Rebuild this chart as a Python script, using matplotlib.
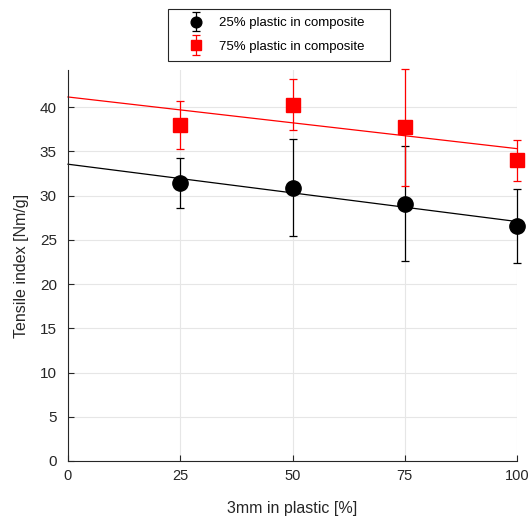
import matplotlib
matplotlib.use("Agg")
import matplotlib.pyplot as plt
from matplotlib.legend_handler import HandlerErrorbar
import numpy as np

plt.rcParams['font.family'] = ['Liberation Sans', 'DejaVu Sans']

# data
x = [25, 50, 75, 100]
y25 = [31.4, 30.9, 29.1, 26.6]
err25 = [2.8, 5.5, 6.5, 4.2]
y75 = [38.0, 40.3, 37.7, 34.0]
err75 = [2.7, 2.85, 6.6, 2.3]
xticks = [0, 25, 50, 75, 100]
yticks = [0, 5, 10, 15, 20, 25, 30, 35, 40]

fig = plt.figure(figsize=(5.28, 5.2), dpi=100)
ax = fig.add_axes([68/528, 59/520, 449/528, 391/520])

# linear fits
xf = np.array([0, 100])
p25 = np.polyfit(x, y25, 1)
p75 = np.polyfit(x, y75, 1)
ax.plot(xf, np.polyval(p25, xf), color='black', lw=0.9, clip_on=False, zorder=2)
ax.plot(xf, np.polyval(p75, xf), color='red', lw=0.9, clip_on=False, zorder=2)

e1 = ax.errorbar(x, y25, yerr=err25, fmt='o', color='black', ms=11, capsize=3,
                 elinewidth=0.9, capthick=0.9, clip_on=False, zorder=3,
                 label='25% plastic in composite')
e2 = ax.errorbar(x, y75, yerr=err75, fmt='s', color='red', ms=10, capsize=3,
                 elinewidth=0.9, capthick=0.9, clip_on=False, zorder=3,
                 label='75% plastic in composite')
for e in (e1, e2):
    for part in e[1] + e[2]:
        part.set_clip_on(False)

ax.set_xlim(0, 100)
ax.set_ylim(0, 44.2)
ax.set_xticks(xticks)
ax.set_yticks(yticks)
ax.grid(True, color='#e6e6e6', lw=0.8)
ax.set_axisbelow(True)
for s in ('top', 'right'):
    ax.spines[s].set_visible(False)
for s in ('left', 'bottom'):
    ax.spines[s].set_color('#262626')
    ax.spines[s].set_linewidth(0.8)
ax.tick_params(direction='in', length=4, colors='#262626', labelsize=11, pad=6)
ax.tick_params(axis='x', labelsize=10.5)
ax.tick_params(axis='y', pad=8)

ax.set_xlabel('3mm in plastic [%]', fontsize=11.5, color='#262626', labelpad=13)
ax.set_ylabel('Tensile index [Nm/g]', fontsize=11.5, color='#262626', labelpad=8)

leg = fig.legend(handles=[e1, e2], loc='upper left',
                 bbox_to_anchor=(168/528, 0.5, 222/528, 0.5 - 9/520), mode='expand',
                 fontsize=9.5, fancybox=False, edgecolor='#262626', framealpha=1,
                 handlelength=3.1, handletextpad=0.2, borderpad=0.6,
                 labelspacing=0.85, borderaxespad=0, markerscale=0.7,
                 handler_map={type(e1): HandlerErrorbar(yerr_size=0.75)})
leg.get_frame().set_linewidth(0.8)

fig.savefig('out.png', dpi=100)
